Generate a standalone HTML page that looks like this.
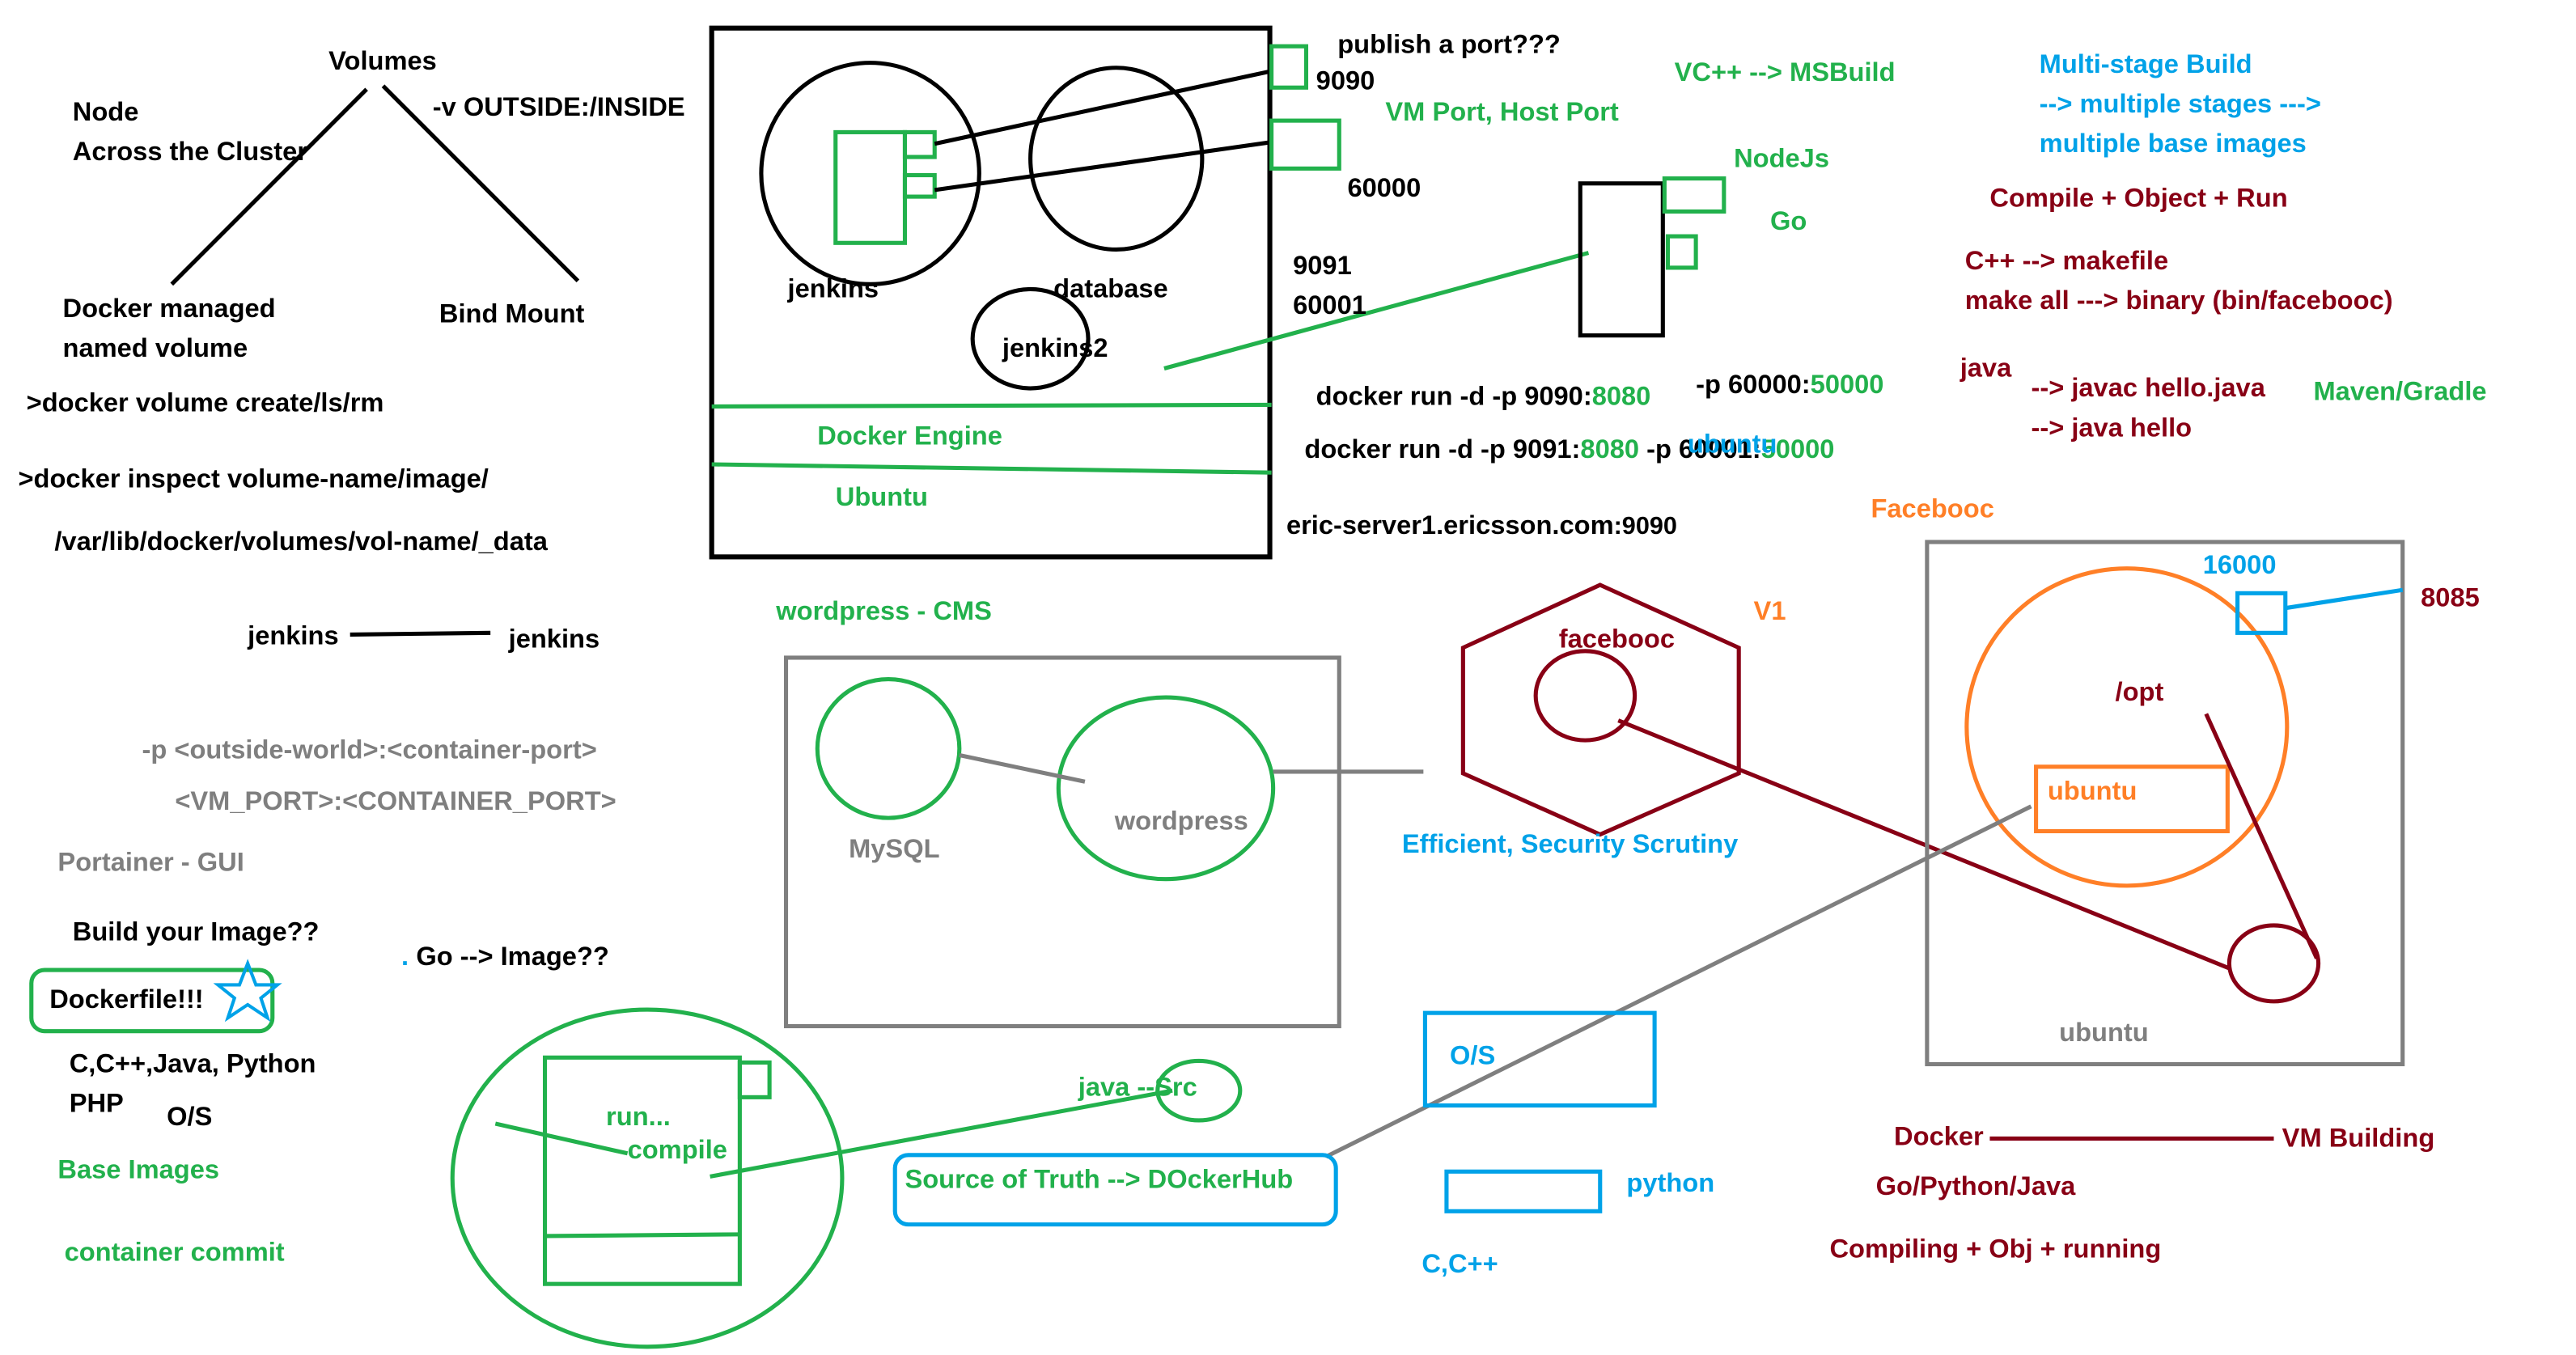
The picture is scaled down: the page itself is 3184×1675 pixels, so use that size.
<!DOCTYPE html>
<html><head><meta charset="utf-8"><style>
html,body{margin:0;padding:0;background:#fff;width:3184px;height:1675px;overflow:hidden}
svg{display:block}
text{font-family:"Liberation Sans",sans-serif;font-weight:bold;font-size:16px}
.k{fill:#000}.g{fill:#22b14c}.b{fill:#00a2e8}.r{fill:#880015}.o{fill:#ff7f27}.y{fill:#7f7f7f}
</style></head><body>
<svg width="3184" height="1675" viewBox="0 0 1560 820" preserveAspectRatio="none">
<g fill="none" stroke-width="2.5">
<!-- Volumes tree -->
<line x1="222" y1="54" x2="104" y2="172" stroke="#000"/>
<line x1="232" y1="52" x2="350" y2="170" stroke="#000"/>
<line x1="212" y1="384" x2="297" y2="383" stroke="#000"/>
<!-- main box -->
<rect x="431" y="17" width="338" height="320" stroke="#000" stroke-width="3"/>
<ellipse cx="527" cy="105" rx="66" ry="67" stroke="#000"/>
<ellipse cx="676" cy="96" rx="52" ry="55" stroke="#000"/>
<ellipse cx="624" cy="205" rx="35" ry="30" stroke="#000"/>
<rect x="506" y="80" width="42" height="67" stroke="#22b14c"/>
<rect x="548" y="80" width="18" height="15" stroke="#22b14c"/>
<rect x="548" y="106" width="18" height="13" stroke="#22b14c"/>
<line x1="566" y1="87" x2="770" y2="43" stroke="#000"/>
<line x1="566" y1="115" x2="770" y2="86" stroke="#000"/>
<rect x="770" y="28" width="21" height="25" stroke="#22b14c"/>
<rect x="770" y="73" width="41" height="29" stroke="#22b14c"/>
<line x1="431" y1="246" x2="770" y2="245" stroke="#22b14c"/>
<line x1="431" y1="281" x2="770" y2="286" stroke="#22b14c"/>
<line x1="705" y1="223" x2="962" y2="153" stroke="#22b14c"/>
<rect x="957" y="111" width="50" height="92" stroke="#000"/>
<rect x="1008" y="108" width="36" height="20" stroke="#22b14c"/>
<rect x="1010" y="143" width="17" height="19" stroke="#22b14c"/>
<!-- wordpress box -->
<rect x="476" y="398" width="335" height="223" stroke="#7f7f7f"/>
<ellipse cx="538" cy="453" rx="43" ry="42" stroke="#22b14c"/>
<ellipse cx="706" cy="477" rx="65" ry="55" stroke="#22b14c"/>
<line x1="581" y1="457" x2="657" y2="473" stroke="#7f7f7f"/>
<line x1="771" y1="467" x2="862" y2="467" stroke="#7f7f7f"/>
<!-- hexagon -->
<polygon points="969,354 1053,392 1053,468 969,505 886,468 886,392" stroke="#880015"/>
<ellipse cx="960" cy="421" rx="30" ry="27" stroke="#880015"/>
<line x1="980" y1="436" x2="1350" y2="586" stroke="#880015"/>
<!-- facebooc box -->
<rect x="1167" y="328" width="288" height="316" stroke="#7f7f7f"/>
<ellipse cx="1288" cy="440" rx="97" ry="96" stroke="#ff7f27"/>
<rect x="1233" y="464" width="116" height="39" stroke="#ff7f27"/>
<rect x="1355" y="359" width="29" height="24" stroke="#00a2e8"/>
<line x1="1384" y1="368" x2="1455" y2="357" stroke="#00a2e8"/>
<ellipse cx="1377" cy="583" rx="27" ry="23" stroke="#880015"/>
<line x1="1336" y1="432" x2="1403" y2="580" stroke="#880015"/>
<line x1="1230" y1="488" x2="803" y2="700" stroke="#7f7f7f"/>
<line x1="1205" y1="689" x2="1377" y2="689" stroke="#880015"/>
<!-- blue boxes -->
<rect x="863" y="613" width="139" height="56" stroke="#00a2e8"/>
<rect x="876" y="709" width="93" height="24" stroke="#00a2e8"/>
<rect x="542" y="699" width="267" height="42" rx="8" stroke="#00a2e8"/>
<!-- compile circle -->
<ellipse cx="392" cy="713" rx="118" ry="102" stroke="#22b14c"/>
<rect x="330" y="640" width="118" height="137" stroke="#22b14c"/>
<rect x="448" y="643" width="18" height="21" stroke="#22b14c"/>
<line x1="330" y1="748" x2="448" y2="747" stroke="#22b14c"/>
<line x1="300" y1="680" x2="380" y2="698" stroke="#22b14c"/>
<line x1="430" y1="712" x2="710" y2="660" stroke="#22b14c"/>
<ellipse cx="726" cy="660" rx="25" ry="18" stroke="#22b14c"/>
<rect x="19" y="587" width="146" height="37" rx="8" stroke="#22b14c"/>
<polygon points="150,583 155,596 168,596 158,604 162,616 150,608 138,616 142,604 132,596 145,596" stroke="#00a2e8" stroke-width="2"/>
</g>
<text x="199" y="42" class="k">Volumes</text>
<text x="44" y="73" class="k">Node</text>
<text x="44" y="97" class="k">Across the Cluster</text>
<text x="262" y="70" class="k">-v OUTSIDE:/INSIDE</text>
<text x="38" y="192" class="k">Docker managed</text>
<text x="38" y="216" class="k">named volume</text>
<text x="266" y="195" class="k">Bind Mount</text>
<text x="16" y="249" class="k">&gt;docker volume create/ls/rm</text>
<text x="11" y="295" class="k">&gt;docker inspect volume-name/image/</text>
<text x="33" y="333" class="k">/var/lib/docker/volumes/vol-name/_data</text>
<text x="150" y="390" class="k">jenkins</text>
<text x="308" y="392" class="k">jenkins</text>
<text x="86" y="459" class="y">-p &lt;outside-world&gt;:&lt;container-port&gt;</text>
<text x="106" y="490" class="y">&lt;VM_PORT&gt;:&lt;CONTAINER_PORT&gt;</text>
<text x="35" y="527" class="y">Portainer - GUI</text>
<text x="44" y="569" class="k">Build your Image??</text>
<text x="30" y="610" class="k">Dockerfile!!!</text>
<text x="42" y="649" class="k">C,C++,Java, Python</text>
<text x="42" y="673" class="k">PHP</text>
<text x="101" y="681" class="k">O/S</text>
<text x="35" y="713" class="g">Base Images</text>
<text x="39" y="763" class="g">container commit</text>
<text x="243" y="584" class="b">.</text>
<text x="252" y="584" class="k">Go --&gt; Image??</text>
<text x="477" y="180" class="k">jenkins</text>
<text x="638" y="180" class="k">database</text>
<text x="607" y="216" class="k">jenkins2</text>
<text x="495" y="269" class="g">Docker Engine</text>
<text x="506" y="306" class="g">Ubuntu</text>
<text x="810" y="32" class="k">publish a port???</text>
<text x="797" y="54" class="k">9090</text>
<text x="839" y="73" class="g">VM Port, Host Port</text>
<text x="816" y="119" class="k">60000</text>
<text x="783" y="166" class="k">9091</text>
<text x="783" y="190" class="k">60001</text>
<text x="797" y="245" class="k">docker run -d -p 9090:<tspan class="g">8080</tspan></text>
<text x="1027" y="238" class="k">-p 60000:<tspan class="g">50000</tspan></text>
<text x="790" y="277" class="k">docker run -d -p 9091:<tspan class="g">8080</tspan> -p 60001:<tspan class="g">50000</tspan></text>
<text x="1022" y="274" class="b">ubuntu</text>
<text x="779" y="323" class="k">eric-server1.ericsson.com<tspan font-size="15">:9090</tspan></text>
<text x="1014" y="49" class="g">VC++ --&gt; MSBuild</text>
<text x="1050" y="101" class="g">NodeJs</text>
<text x="1072" y="139" class="g">Go</text>
<text x="1235" y="44" class="b">Multi-stage Build</text>
<text x="1235" y="68" class="b">--&gt; multiple stages ---&gt;</text>
<text x="1235" y="92" class="b">multiple base images</text>
<text x="1205" y="125" class="r">Compile + Object + Run</text>
<text x="1190" y="163" class="r">C++ --&gt; makefile</text>
<text x="1190" y="187" class="r">make all ---&gt; binary (bin/facebooc)</text>
<text x="1187" y="228" class="r">java</text>
<text x="1230" y="240" class="r">--&gt; javac hello.java</text>
<text x="1230" y="264" class="r">--&gt; java hello</text>
<text x="1401" y="242" class="g">Maven/Gradle</text>
<text x="1133" y="313" class="o">Facebooc</text>
<text x="1334" y="347" class="b">16000</text>
<text x="1466" y="367" class="r">8085</text>
<text x="1281" y="424" class="r">/opt</text>
<text x="1240" y="484" class="o">ubuntu</text>
<text x="1247" y="630" class="y">ubuntu</text>
<text x="1062" y="375" class="o">V1</text>
<text x="944" y="392" class="r">facebooc</text>
<text x="849" y="516" class="b">Efficient, Security Scrutiny</text>
<text x="470" y="375" class="g">wordpress - CMS</text>
<text x="514" y="519" class="y">MySQL</text>
<text x="675" y="502" class="y">wordpress</text>
<text x="878" y="644" class="b">O/S</text>
<text x="985" y="721" class="b">python</text>
<text x="861" y="770" class="b">C,C++</text>
<text x="548" y="719" class="g">Source of Truth --&gt; DOckerHub</text>
<text x="653" y="663" class="g">java --Src</text>
<text x="367" y="681" class="g">run...</text>
<text x="380" y="701" class="g">compile</text>
<text x="1147" y="693" class="r">Docker</text>
<text x="1382" y="694" class="r">VM Building</text>
<text x="1136" y="723" class="r">Go/Python/Java</text>
<text x="1108" y="761" class="r">Compiling + Obj + running</text>
</svg>
</body></html>
